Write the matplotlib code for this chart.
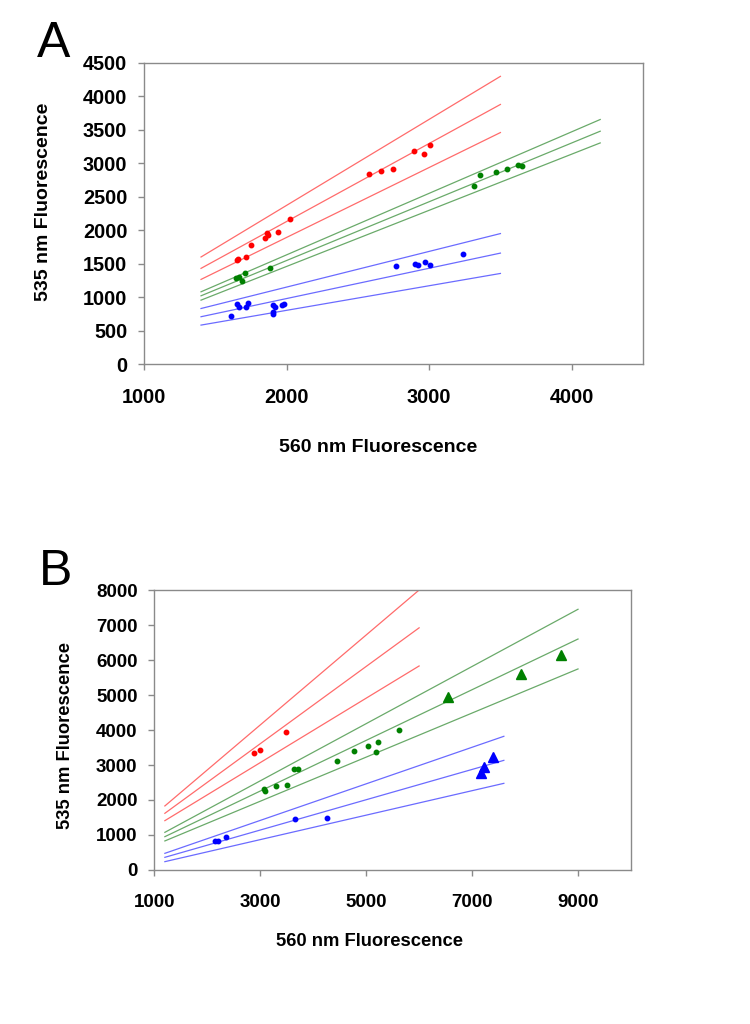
import matplotlib
matplotlib.use("Agg")
from matplotlib import pyplot as plt

plt.rcParams['font.family'] = ['Liberation Sans', 'DejaVu Sans']
plt.rcParams['font.weight'] = 'bold'

# panel A data (560 nm, 535 nm)
a_red_x = [1649, 1656, 1715, 1750, 1848, 1862, 1871, 1937, 2026, 2579, 2663, 2750, 2894, 2965, 3004]
a_red_y = [1553, 1568, 1603, 1772, 1877, 1961, 1931, 1971, 2175, 2842, 2887, 2912, 3191, 3136, 3270]
a_green_x = [1645, 1666, 1689, 1710, 1881, 3317, 3359, 3467, 3544, 3623, 3651]
a_green_y = [1289, 1294, 1245, 1354, 1434, 2658, 2823, 2867, 2917, 2982, 2962]
a_blue_x = [1610, 1654, 1668, 1715, 1726, 1902, 1920, 1902, 1904, 1967, 1983, 2771, 2902, 2923, 2972, 3009, 3238]
a_blue_y = [717, 896, 856, 856, 906, 876, 856, 747, 772, 881, 891, 1464, 1493, 1478, 1518, 1473, 1648]

# reference lines: x range and y at both ends
a_red_lx = [1400, 3500]
a_red_lines = [[1600, 4300], [1430, 3880], [1265, 3460]]
a_green_lx = [1400, 4200]
a_green_lines = [[1080, 3655], [1020, 3480], [955, 3305]]
a_blue_lx = [1400, 3500]
a_blue_lines = [[830, 1950], [707, 1658], [582, 1354]]

# panel B data
b_red_x = [2881, 3000, 3478]
b_red_y = [3333, 3429, 3943]
b_green_x = [3069, 3095, 3296, 3497, 3629, 3711, 4441, 4768, 5032, 5183, 5227, 5617]
b_green_y = [2324, 2267, 2400, 2438, 2876, 2895, 3105, 3390, 3543, 3371, 3657, 4010]
b_green_tri_x = [6554, 7919, 8674]
b_green_tri_y = [4952, 5610, 6152]
b_blue_x = [2138, 2208, 2359, 3654, 4252]
b_blue_y = [838, 838, 933, 1457, 1495]
b_blue_tri_x = [7170, 7221, 7386]
b_blue_tri_y = [2780, 2934, 3220]

b_red_lx = [1200, 6000]
b_red_lines = [[1830, 8000], [1620, 6920], [1410, 5830]]
b_green_lx = [1200, 9000]
b_green_lines = [[1076, 7450], [952, 6600], [830, 5745]]
b_blue_lx = [1200, 7600]
b_blue_lines = [[476, 3820], [362, 3133], [238, 2476]]

line_cols = {'red': '#ff6b6b', 'green': '#6aaa6a', 'blue': '#6b6bff'}
dot_cols = {'red': '#ff0000', 'green': '#008000', 'blue': '#0000ff'}


def style_axes(ax, xlim, ylim, xticks, yticks, size):
    ax.set_xlim(xlim)
    ax.set_ylim(ylim)
    ax.set_xticks(xticks)
    ax.set_yticks(yticks)
    for s in ax.spines.values():
        s.set_color('#8a8a8a')
        s.set_linewidth(1.0)
    ax.tick_params(axis='both', direction='out', color='#8a8a8a', length=4, width=1, labelsize=size)
    ax.tick_params(axis='x', pad=13)
    ax.tick_params(axis='y', pad=8)
    for lab in ax.get_xticklabels() + ax.get_yticklabels():
        lab.set_fontweight('bold')


fig = plt.figure(figsize=(7.5, 10.24), dpi=100)

# ---- panel A
ax = fig.add_axes([0.192, 0.6445, 0.6653, 0.294])
for lines, lx, c in [(a_red_lines, a_red_lx, 'red'), (a_green_lines, a_green_lx, 'green'), (a_blue_lines, a_blue_lx, 'blue')]:
    for ly in lines:
        ax.plot(lx, ly, color=line_cols[c], lw=0.9)
ax.plot(a_red_x, a_red_y, 'o', color=dot_cols['red'], ms=3.2)
ax.plot(a_green_x, a_green_y, 'o', color=dot_cols['green'], ms=3.2)
ax.plot(a_blue_x, a_blue_y, 'o', color=dot_cols['blue'], ms=3.2)
style_axes(ax, (1000, 4500), (0, 4500), [1000, 2000, 3000, 4000], range(0, 4501, 500), 14.3)
ax.set_xlabel('560 nm Fluorescence', fontsize=14, fontweight='bold', va='center')
ax.xaxis.set_label_coords(0.469, -0.276)
ax.set_ylabel('535 nm Fluorescence', fontsize=14, fontweight='bold', va='center')
ax.yaxis.set_label_coords(-0.201, 0.538)
fig.text(37 / 750, 1 - 57 / 1024, 'A', fontsize=36, fontweight='normal', ha='left', va='baseline')

# ---- panel B
ax = fig.add_axes([0.2057, 0.1504, 0.6356, 0.2734])
for lines, lx, c in [(b_red_lines, b_red_lx, 'red'), (b_green_lines, b_green_lx, 'green'), (b_blue_lines, b_blue_lx, 'blue')]:
    for ly in lines:
        ax.plot(lx, ly, color=line_cols[c], lw=0.9)
ax.plot(b_red_x, b_red_y, 'o', color=dot_cols['red'], ms=3.2)
ax.plot(b_green_x, b_green_y, 'o', color=dot_cols['green'], ms=3.2)
ax.plot(b_blue_x, b_blue_y, 'o', color=dot_cols['blue'], ms=3.2)
ax.plot(b_green_tri_x, b_green_tri_y, '^', color=dot_cols['green'], ms=7)
ax.plot(b_blue_tri_x, b_blue_tri_y, '^', color=dot_cols['blue'], ms=7)
style_axes(ax, (1000, 10000), (0, 8000), [1000, 3000, 5000, 7000, 9000], range(0, 8001, 1000), 13.5)
ax.set_xlabel('560 nm Fluorescence', fontsize=13.2, fontweight='bold', va='center')
ax.xaxis.set_label_coords(0.452, -0.254)
ax.set_ylabel('535 nm Fluorescence', fontsize=13.2, fontweight='bold', va='center')
ax.yaxis.set_label_coords(-0.187, 0.48)
fig.text(39 / 750, 1 - 585 / 1024, 'B', fontsize=36, fontweight='normal', ha='left', va='baseline')

fig.savefig('out.png', dpi=100)
